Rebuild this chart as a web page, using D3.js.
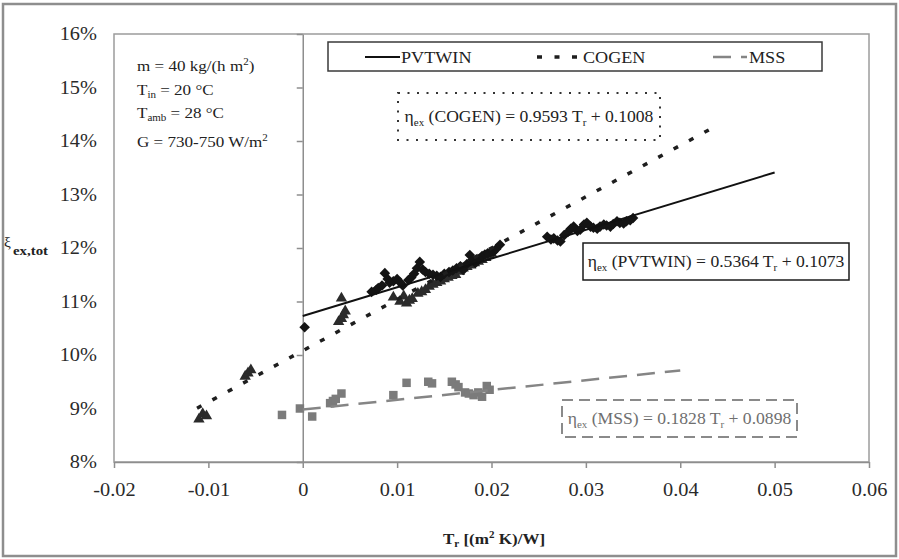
<!DOCTYPE html>
<html>
<head>
<meta charset="utf-8">
<script src="https://cdn.jsdelivr.net/npm/d3@7"></script>
<style>
  html, body { margin: 0; padding: 0; background: #fff; }
  svg { display: block; font-family: "Liberation Serif", "Times New Roman", serif; }
  text { white-space: pre; }
</style>
</head>
<body>
<svg id="chart" width="899" height="559"></svg>
<script>
// ---- data -------------------------------------------------------------
const seriesNames = ["PVTWIN", "COGEN", "MSS"];

// linear fits  eta_ex = slope * Tr + intercept
const fitSlope = [0.5364, 0.9593, 0.1828];
const fitIntercept = [0.1073, 0.1008, 0.0898];
const fitStart = [0.0, -0.0112, 0.0];
const fitEnd = [0.05, 0.044, 0.04];

// measured points: reduced temperature Tr [(m2 K)/W] and exergy efficiency [%]
const pvtwinTr = [0.0002, 0.0073, 0.0078, 0.0080, 0.0084, 0.0087, 0.0090, 0.0092, 0.0096, 0.0100,
  0.0103, 0.0106, 0.0112, 0.0115, 0.0118, 0.0121, 0.0124, 0.0127, 0.0130, 0.0134, 0.0138, 0.0142,
  0.0146, 0.0150, 0.0155, 0.0159, 0.0163, 0.0167, 0.0170, 0.0174, 0.0177, 0.0180, 0.0183, 0.0187,
  0.0190, 0.0193, 0.0196, 0.0199, 0.0202, 0.0205, 0.0209, 0.0259, 0.0263, 0.0266, 0.0270, 0.0273,
  0.0277, 0.0281, 0.0284, 0.0287, 0.0291, 0.0294, 0.0298, 0.0301, 0.0305, 0.0308, 0.0312, 0.0315,
  0.0319, 0.0322, 0.0326, 0.0329, 0.0333, 0.0336, 0.0340, 0.0343, 0.0347, 0.0350];
const pvtwinEta = [10.52, 11.18, 11.22, 11.25, 11.30, 11.53, 11.42, 11.35, 11.38, 11.42,
  11.36, 11.30, 11.40, 11.45, 11.52, 11.62, 11.74, 11.60, 11.55, 11.52, 11.50, 11.48,
  11.46, 11.52, 11.55, 11.58, 11.62, 11.66, 11.59, 11.70, 11.87, 11.78, 11.72, 11.80,
  11.85, 11.88, 11.90, 11.92, 11.93, 11.98, 12.06, 12.21, 12.16, 12.18, 12.14, 12.12,
  12.24, 12.30, 12.36, 12.40, 12.32, 12.34, 12.44, 12.47, 12.40, 12.38, 12.36, 12.40,
  12.44, 12.42, 12.40, 12.45, 12.50, 12.47, 12.46, 12.50, 12.52, 12.56];

const cogenTr = [-0.0110, -0.0106, -0.0102, -0.0061, -0.0058, -0.0055, 0.0038, 0.0041, 0.0043, 0.0045,
  0.0041, 0.0096, 0.0103, 0.0107, 0.0110, 0.0113, 0.0116, 0.0122, 0.0126, 0.0130, 0.0134, 0.0138,
  0.0142, 0.0146, 0.0150, 0.0154, 0.0158, 0.0162, 0.0166, 0.0170, 0.0174, 0.0178, 0.0182, 0.0186,
  0.0190, 0.0194, 0.0197, 0.0200];
const cogenEta = [8.80, 8.90, 8.86, 9.60, 9.66, 9.72, 10.62, 10.68, 10.75, 10.82,
  11.06, 11.08, 11.00, 11.10, 10.97, 11.02, 11.05, 11.15, 11.18, 11.22, 11.28, 11.32,
  11.35, 11.38, 11.42, 11.45, 11.48, 11.50, 11.56, 11.62, 11.65, 11.68, 11.72, 11.75,
  11.78, 11.82, 11.86, 11.90];

const mssTr = [-0.0022, -0.0003, 0.0010, 0.0029, 0.0032, 0.0035, 0.0041, 0.0096, 0.0110, 0.0133,
  0.0137, 0.0158, 0.0162, 0.0165, 0.0172, 0.0176, 0.0181, 0.0186, 0.0190, 0.0195, 0.0198];
const mssEta = [8.88, 9.00, 8.85, 9.10, 9.14, 9.18, 9.28, 9.25, 9.48, 9.50,
  9.47, 9.50, 9.45, 9.40, 9.30, 9.28, 9.25, 9.30, 9.22, 9.42, 9.35];

const xTicks = [-0.02, -0.01, 0, 0.01, 0.02, 0.03, 0.04, 0.05, 0.06];
const yTicks = [8, 9, 10, 11, 12, 13, 14, 15, 16];

// ---- layout ------------------------------------------------------------
const W = 899, H = 559;
const plot = { left: 114, right: 869, top: 34, bottom: 462 };
const SX = 1.1;                 // horizontal text stretch
const ink = "#222", frame = "#8e8e8e";

const svg = d3.select("#chart");
const x = d3.scaleLinear().domain([-0.02, 0.06]).range([plot.left, plot.right]);
const y = d3.scaleLinear().domain([8, 16]).range([plot.bottom, plot.top]);

// text with optional sub/superscript runs: parts = [[string, "n"|"sub"|"sup"], ...]
function rich(parent, px, py, anchor, size, parts) {
  const t = parent.append("text")
    .attr("transform", `translate(${px},${py}) scale(${SX},1)`)
    .attr("text-anchor", anchor)
    .style("font-size", size + "px")
    .attr("fill", ink);
  const small = Math.round(size * 0.64);
  const offs = { n: 0, sub: size * 0.22, sup: -size * 0.4 };
  let cur = 0;
  parts.forEach(([s, kind]) => {
    const target = offs[kind];
    const sp = t.append("tspan").attr("dy", target - cur).text(s);
    if (kind !== "n") sp.style("font-size", small + "px");
    cur = target;
  });
  return t;
}

// outer frame
svg.append("rect").attr("x", 3).attr("y", 4).attr("width", W - 6).attr("height", H - 7)
  .attr("fill", "#fff").attr("stroke", frame).attr("stroke-width", 2.5);

// plot area frame
svg.append("rect").attr("x", plot.left).attr("y", plot.top)
  .attr("width", plot.right - plot.left).attr("height", plot.bottom - plot.top)
  .attr("fill", "#fff").attr("stroke", "#9c9c9c").attr("stroke-width", 1.5);

// vertical axis crossing at Tr = 0
const yAxisG = svg.append("g").attr("transform", `translate(${x(0)},0)`)
  .call(d3.axisLeft(y).tickValues(yTicks).tickSize(6).tickSizeOuter(0).tickFormat(""));
yAxisG.selectAll("path,line").attr("stroke", frame).attr("stroke-width", 1.5);

// y tick labels at the low side
const yLab = svg.append("g").attr("transform", `translate(${plot.left},0)`)
  .call(d3.axisLeft(y).tickValues(yTicks).tickSize(0).tickPadding(15.5).tickFormat(d => d + "%"));
yLab.select(".domain").remove();
yLab.selectAll("text").attr("transform", `scale(${SX},1)`)
  .style("font-size", "18.5px").style("font-family", "Liberation Serif").attr("fill", "#2a2a2a");

// x axis
const xAxisG = svg.append("g").attr("transform", `translate(0,${plot.bottom})`)
  .call(d3.axisBottom(x).tickValues(xTicks).tickSize(6).tickSizeOuter(0).tickPadding(15)
    .tickFormat(d => d === 0 ? "0" : d.toFixed(2)));
xAxisG.selectAll("path,line").attr("stroke", frame).attr("stroke-width", 1.5);
xAxisG.selectAll("text").attr("transform", `scale(${SX},1)`)
  .style("font-size", "18.5px").style("font-family", "Liberation Serif").attr("fill", "#2a2a2a");

// axis titles
rich(svg, 494, 544, "middle", 15.5,
  [["T", "n"], ["r", "sub"], [" [(m", "n"], ["2", "sup"], [" K)/W]", "n"]])
  .attr("font-weight", "bold");
rich(svg, 4, 247, "start", 14, [["ξ", "n"]]);
rich(svg, 13, 255, "start", 13.5, [["ex,tot", "n"]]).attr("font-weight", "bold");

// operating conditions
{
  const g = svg.append("g");
  const fs = 15.5;
  rich(g, 137, 71, "start", fs, [["m = 40 kg/(h m", "n"], ["2", "sup"], [")", "n"]]);
  rich(g, 137, 95, "start", fs, [["T", "n"], ["in", "sub"], [" = 20 °C", "n"]]);
  rich(g, 137, 118, "start", fs, [["T", "n"], ["amb", "sub"], [" = 28 °C", "n"]]);
  rich(g, 137, 147, "start", fs, [["G = 730-750 W/m", "n"], ["2", "sup"]]);
}

// ---- markers -----------------------------------------------------------
const mss = mssTr.map((t, i) => [t, mssEta[i]]);
const cogen = cogenTr.map((t, i) => [t, cogenEta[i]]);
const pvtwin = pvtwinTr.map((t, i) => [t, pvtwinEta[i]]);

svg.append("g").selectAll("path").data(mss).join("path")
  .attr("d", d3.symbol(d3.symbolSquare, 72))
  .attr("transform", d => `translate(${x(d[0])},${y(d[1])})`)
  .attr("fill", "#7b7b7b");

svg.append("g").selectAll("path").data(cogen).join("path")
  .attr("d", d3.symbol(d3.symbolTriangle, 56))
  .attr("transform", d => `translate(${x(d[0])},${y(d[1])})`)
  .attr("fill", "#2b2b2b");

svg.append("g").selectAll("path").data(pvtwin).join("path")
  .attr("d", d3.symbol(d3.symbolSquare, 56))
  .attr("transform", d => `translate(${x(d[0])},${y(d[1])}) rotate(45)`)
  .attr("fill", "#141414");

// ---- fitted lines ------------------------------------------------------
const lineStyles = [
  { stroke: "#111", width: 2, dash: null },
  { stroke: "#1e1e1e", width: 3.5, dash: "5,12.5" },
  { stroke: "#858585", width: 2.5, dash: "18,10" }
];
const line = d3.line().x(d => x(d[0])).y(d => y(d[1]));
seriesNames.forEach((name, i) => {
  const pts = [fitStart[i], fitEnd[i]].map(t => [t, (fitSlope[i] * t + fitIntercept[i]) * 100]);
  svg.append("path").datum(pts).attr("d", line)
    .attr("fill", "none").attr("stroke", lineStyles[i].stroke)
    .attr("stroke-width", lineStyles[i].width)
    .attr("stroke-dasharray", lineStyles[i].dash);
});

// ---- legend ------------------------------------------------------------
{
  const g = svg.append("g");
  g.append("rect").attr("x", 328).attr("y", 42).attr("width", 494).attr("height", 29)
    .attr("fill", "#fff").attr("stroke", "#3a3a3a").attr("stroke-width", 1.5);
  const items = [
    { x0: 365, x1: 400, tx: 401 },
    { x0: 537, x1: 580, tx: 583 },
    { x0: 713, x1: 747, tx: 749 }
  ];
  seriesNames.forEach((name, i) => {
    const it = items[i];
    g.append("line").attr("x1", it.x0).attr("x2", it.x1).attr("y1", 57).attr("y2", 57)
      .attr("stroke", lineStyles[i].stroke).attr("stroke-width", lineStyles[i].width)
      .attr("stroke-dasharray", lineStyles[i].dash);
    rich(g, it.tx, 62.5, "start", 16.5, [[name, "n"]]);
  });
}

// ---- fit equations -----------------------------------------------------
function equation(i, box, color, boxStroke, dash, width) {
  const g = svg.append("g");
  g.append("rect").attr("x", box[0]).attr("y", box[1]).attr("width", box[2]).attr("height", box[3])
    .attr("fill", "#fff").attr("stroke", boxStroke).attr("stroke-width", width)
    .attr("stroke-dasharray", dash);
  rich(g, box[0] + box[2] / 2, box[1] + box[3] / 2 + 5.5, "middle", 16, [
    ["η", "n"], ["ex", "sub"],
    [` (${seriesNames[i]}) = ${fitSlope[i].toFixed(4)} T`, "n"], ["r", "sub"],
    [` + ${fitIntercept[i].toFixed(4)}`, "n"]
  ]).attr("fill", color);
}
equation(1, [398, 93, 262, 47], "#222", "#333", "2,7.5", 2);
equation(0, [583, 243, 266, 37], "#222", "#1a1a1a", null, 1.5);
equation(2, [562, 400, 235, 37], "#6f6f6f", "#8a8a8a", "11,6", 2);
</script>
</body>
</html>
